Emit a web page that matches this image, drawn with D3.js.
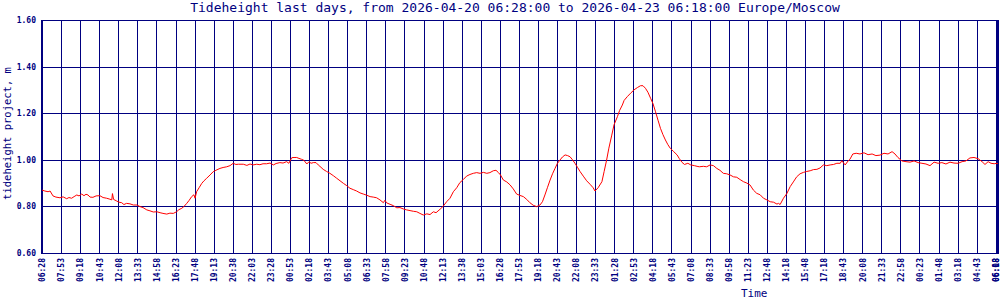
<!DOCTYPE html>
<html><head><meta charset="utf-8">
<script src="https://cdn.jsdelivr.net/npm/d3@7"></script>
<style>
body{margin:0;background:#fff}
svg{display:block}
</style></head><body>
<svg id="c" width="1000" height="300"></svg>
<script>
// ---- data ----
const titleText = "Tideheight last days, from 2026-04-20 06:28:00 to 2026-04-23 06:18:00 Europe/Moscow";
const yTitle = "tideheight project, m";
const xTitle = "Time";
const yTicks = [0.6, 0.8, 1.0, 1.2, 1.4, 1.6];
const tickLabels = ["06:28","07:53","09:18","10:43","12:08","13:33","14:58","16:23","17:48","19:13",
  "20:38","22:03","23:28","00:53","02:18","03:43","05:08","06:33","07:58","09:23",
  "10:48","12:13","13:38","15:03","16:28","17:53","19:18","20:43","22:08","23:33",
  "01:28","02:53","04:18","05:43","07:08","08:33","09:58","11:23","12:48","14:18",
  "15:48","17:18","18:43","20:08","21:33","22:58","00:23","01:48","03:18","04:43",
  "06:08","06:18"];
const tickMinutes = [0,85,170,255,340,425,510,595,680,765,850,935,1020,1105,1190,1275,1360,1445,1530,1615,
  1700,1785,1870,1955,2040,2125,2210,2295,2380,2465,2550,2635,2720,2805,2890,2975,3060,3145,3230,3315,
  3400,3485,3570,3655,3740,3825,3910,3995,4080,4165,4250,4260];
// elapsed sample-minutes along the axis
const minutes = [0,13,27,36,49,62,80,94,110,120,132,143,155,165,177,187,196,205,214,227,241,258,272,288,299,311,314,319,333,343,355,365,377,392,407,423,437,450,467,481,496,512,526,539,556,570,585,600,610,623,633,645,655,667,677,682,689,700,712,722,734,749,763,775,793,807,823,838,852,864,875,
  897,913,927,940,957,971,985,1001,1016,1031,1043,1060,1074,1090,1100,1113,1123,1135,1145,1157,1167,1180,1190,1199,1209,1221,1231,1243,1253,1268,1283,1298,1313,1328,1343,1358,1372,1387,1402,1417,1432,1447,1462,1476,1491,1506,1521,1528,1536,1551,1566,1581,1595,1610,1625,1640,1655,1670,1684,1699,1715,1729,1744,1756,1774,1787,1803,1818,1833,1848,1862,1877,1892,1907,1922,1937,1952,1967,1982,1996,2011,2023,2034,2043,2056,2071,2086,2100,2115,2130,2145,2160,2174,2189,2204,2219,2230,2241,2252,2264,2275,2286,2297,2308,2319,2331,2342,2353,2364,2375,2386,2398,2412,2427,2442,2456,2464,2478,2495,2505,2516,2526,2539,2549,2564,2574,2586,2594,2608,2623,2638,2653,2667,2678,2689,2700,2712,2723,2734,2745,2756,2767,2778,2789,2800,2815,2830,2840,2852,2863,2878,2891,2907,2919,2929,
  2947,2962,2977,2992,3007,3021,3036,3051,3066,3081,3096,3111,3126,3141,3155,3170,3185,3200,3215,3230,3245,3260,3275,3282,3289,3304,3319,3334,3348,3363,3378,3393,3408,3423,3438,3453,3467,3482,3497,3512,3527,3542,3557,3564,3579,3592,3600,3613,3628,3645,3663,3681,3699,3716,3734,3752,3770,3788,3801,3814,3832,3850,3868,3886,3904,3921,3939,3957,3975,3993,4010,4028,4046,4064,4082,4100,4117,4135,4153,4171,4189,4202,4216,4229,4243,4256,4260];
const heights = [0.870,0.866,0.863,0.866,0.845,0.840,0.837,0.841,0.833,0.838,0.835,0.842,0.849,0.845,0.853,0.846,0.852,0.849,0.840,0.839,0.845,0.846,0.838,0.835,0.832,0.828,0.855,0.830,0.823,0.818,0.816,0.808,0.813,0.811,0.806,0.806,0.799,0.795,0.785,0.781,0.776,0.777,0.773,0.770,0.767,0.771,0.770,0.777,0.786,0.792,0.800,0.813,0.825,0.842,0.850,0.835,0.863,0.880,0.899,0.910,0.921,0.935,0.949,0.955,0.963,0.967,0.970,0.975,0.985,0.980,0.981,
  0.981,0.976,0.982,0.978,0.981,0.979,0.983,0.983,0.986,0.978,0.984,0.988,0.986,0.992,0.985,1.009,1.010,1.010,1.006,1.002,0.998,0.982,0.992,0.985,0.988,0.988,0.978,0.968,0.959,0.950,0.942,0.932,0.921,0.910,0.899,0.889,0.878,0.872,0.866,0.858,0.853,0.848,0.842,0.840,0.837,0.828,0.816,0.826,0.815,0.809,0.803,0.794,0.795,0.789,0.785,0.782,0.779,0.777,0.770,0.763,0.768,0.765,0.777,0.773,0.788,0.800,0.820,0.835,0.863,0.880,0.902,0.915,0.930,0.937,0.942,0.945,0.942,0.946,0.942,0.945,0.953,0.955,0.945,0.935,0.913,0.905,0.892,0.875,0.853,0.847,0.842,0.830,0.816,0.805,0.799,0.806,0.820,0.849,0.880,0.913,0.940,0.963,0.985,0.999,1.012,1.021,1.018,1.013,1.000,0.985,0.968,0.949,0.930,0.910,0.895,0.880,0.866,0.880,0.906,0.950,0.999,1.050,1.106,1.150,1.185,1.212,1.235,1.255,1.271,1.286,1.300,1.310,1.318,1.318,1.307,1.290,1.264,1.240,1.206,1.170,1.135,1.108,1.085,1.065,1.049,1.035,1.021,1.005,0.989,0.980,0.985,0.978,0.975,0.972,0.970,
  0.972,0.970,0.978,0.975,0.963,0.955,0.942,0.940,0.935,0.927,0.925,0.915,0.906,0.900,0.892,0.870,0.856,0.850,0.835,0.828,0.820,0.818,0.810,0.813,0.808,0.835,0.855,0.885,0.905,0.927,0.940,0.946,0.950,0.953,0.958,0.959,0.965,0.978,0.975,0.978,0.980,0.985,0.985,0.996,0.978,0.995,1.002,1.025,1.028,1.025,1.030,1.022,1.025,1.018,1.020,1.028,1.025,1.035,1.025,1.010,0.995,0.992,0.990,0.995,0.988,0.985,0.982,0.975,0.990,0.985,0.988,0.982,0.990,0.986,0.985,0.992,0.995,1.008,1.010,1.005,0.992,0.980,0.992,0.985,0.983,0.985,0.982];

// ---- chart ----
const L = 42, R = 998, T = 20, B = 253;
const navy = "#000080";
const mono = "'DejaVu Sans Mono', monospace";
const svg = d3.select("#c");

const x = d3.scaleLinear().domain([0, 4260]).range([L, R]);
const y = d3.scaleLinear().domain([0.6, 1.6]).range([B, T]);

// vertical grid + x labels
const xAxis = d3.axisBottom(x)
  .tickValues(tickMinutes)
  .tickSize(-(B - T))
  .tickFormat((d, i) => tickLabels[i]);
const gx = svg.append("g").attr("transform", `translate(0,${B})`).call(xAxis);
gx.select(".domain").remove();
gx.selectAll(".tick line").attr("stroke", navy).attr("stroke-width", 1).attr("shape-rendering", "crispEdges");
gx.selectAll(".tick text")
  .attr("fill", navy)
  .attr("font-family", mono)
  .attr("font-weight", "bold")
  .attr("font-size", 8)
  .attr("transform", "rotate(-90)")
  .attr("text-anchor", "end")
  .attr("x", -5).attr("y", 0)
  .attr("dy", (d, i) => i === tickLabels.length - 1 ? "0.1em" : "0.35em");

// horizontal grid + y labels
const yAxis = d3.axisLeft(y)
  .tickValues(yTicks)
  .tickSize(-(R - L))
  .tickPadding(6)
  .tickFormat(d3.format(".2f"));
const gy = svg.append("g").attr("transform", `translate(${L},0)`).call(yAxis);
gy.select(".domain").remove();
gy.selectAll(".tick line").attr("stroke", navy).attr("stroke-width", 1).attr("shape-rendering", "crispEdges");
gy.selectAll(".tick text")
  .attr("fill", navy)
  .attr("font-family", mono)
  .attr("font-weight", "bold")
  .attr("font-size", 8);

// borders
svg.append("line").attr("x1", L).attr("x2", L).attr("y1", T).attr("y2", B + 1)
  .attr("stroke", navy).attr("stroke-width", 2);
svg.append("line").attr("x1", R).attr("x2", R).attr("y1", T).attr("y2", B + 1)
  .attr("stroke", navy).attr("stroke-width", 2);

// data line
const pts = minutes.map((m, i) => ({m, h: heights[i]}));
svg.append("path")
  .datum(pts)
  .attr("fill", "none")
  .attr("stroke", "#ff0000")
  .attr("stroke-width", 1)
  .attr("stroke-linejoin", "round")
  .attr("d", d3.line().x(d => x(d.m)).y(d => y(d.h)));

// titles
svg.append("text").attr("x", 515).attr("y", 12)
  .attr("text-anchor", "middle").attr("font-family", mono).attr("font-size", 13)
  .attr("fill", navy).text(titleText);
svg.append("text")
  .attr("transform", `translate(11,${(T + B) / 2 - 3}) rotate(-90)`)
  .attr("text-anchor", "middle").attr("font-family", mono).attr("font-size", 10.5)
  .attr("fill", navy).text(yTitle);
svg.append("text").attr("x", 741).attr("y", 297)
  .attr("font-family", mono).attr("font-size", 11)
  .attr("fill", navy).text(xTitle);
</script>
</body></html>
